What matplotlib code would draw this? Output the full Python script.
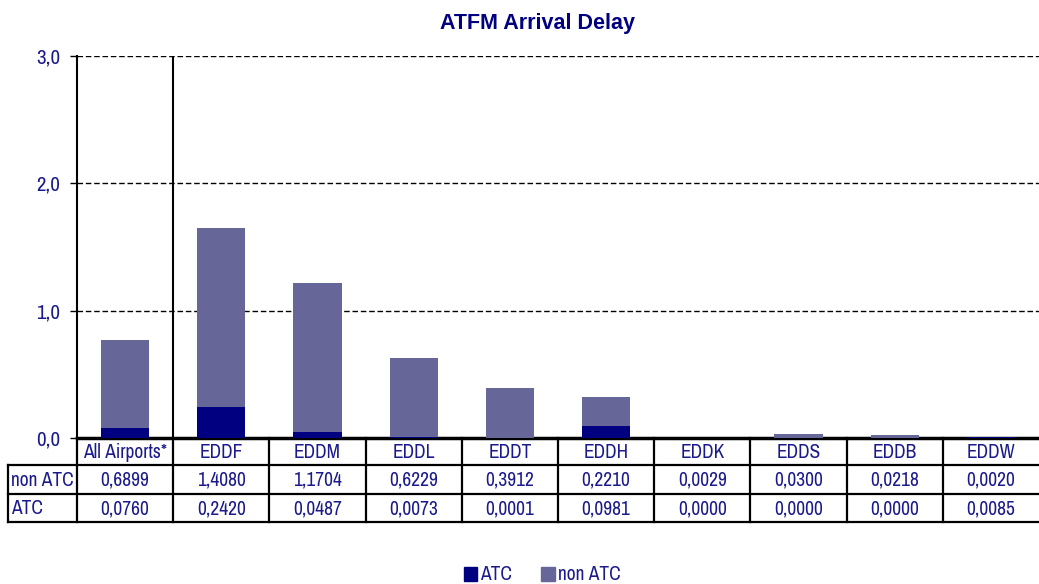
import matplotlib
matplotlib.use("Agg")
import matplotlib.pyplot as plt
from matplotlib import font_manager
from matplotlib.patches import Rectangle
from matplotlib.transforms import blended_transform_factory

airports = ["All Airports*", "EDDF", "EDDM", "EDDL", "EDDT", "EDDH", "EDDK", "EDDS", "EDDB", "EDDW"]
non_atc = [0.6899, 1.4080, 1.1704, 0.6229, 0.3912, 0.2210, 0.0029, 0.0300, 0.0218, 0.0020]
atc = [0.0760, 0.2420, 0.0487, 0.0073, 0.0001, 0.0981, 0.0000, 0.0000, 0.0000, 0.0085]
y_ticks = [0, 1, 2, 3]

NAVY = "#000080"
SLATE = "#666699"
TXT = "#1a1a8c"

# narrow face for the body text if one is around
fonts = font_manager.fontManager.ttflist
narrow = sorted({f.name for f in fonts if "Narrow" in f.name or "Condensed" in f.name})
plt.rcParams['font.family'] = narrow[:1] + ['Liberation Sans', 'DejaVu Sans']
FS = 14 if narrow else 12

W, H = 1039, 584
fig = plt.figure(figsize=(W / 100, H / 100), dpi=100)
ax = fig.add_axes([77 / W, 1 - 438 / H, 1 - 77 / W, (438 - 56) / H])

x = list(range(len(airports)))
ax.bar(x, atc, width=0.5, color=NAVY, zorder=3)
ax.bar(x, non_atc, width=0.5, bottom=atc, color=SLATE, zorder=3)

ax.set_xlim(-0.5, len(airports) - 0.5)
ax.set_ylim(0, 3)
ax.set_yticks(y_ticks)
ax.set_yticklabels([f"{v:.1f}".replace(".", ",") for v in y_ticks], color=TXT, fontsize=FS + 1)
ax.set_xticks([])
ax.yaxis.grid(True, color="black", linestyle=(0, (4, 2)), linewidth=1)
ax.set_axisbelow(True)
for s in ["top", "right"]:
    ax.spines[s].set_visible(False)
ax.spines["left"].set_linewidth(1.5)
ax.spines["bottom"].set_linewidth(2.5)
ax.tick_params(axis="y", length=5, width=1, pad=7)
ax.axvline(0.5, color="black", linewidth=1.5, zorder=2)


def fy(py):
    return 1 - py / H


fig.text(537 / W, fy(23), "ATFM Arrival Delay", color=NAVY, fontsize=15.5, fontweight="bold",
         ha="center", va="center", family=['Liberation Sans', 'DejaVu Sans'])

# data table below the axis, y in figure pixels
tr = blended_transform_factory(ax.transData, fig.transFigure)
trf = fig.transFigure

rows = [("non ATC", non_atc), ("ATC", atc)]
row_y = [(438, 465), (465, 494), (494, 522)]
lw = 1.6

# horizontal lines
for py in (465, 494, 522):
    fig.add_artist(plt.Line2D([8 / W, 1], [fy(py), fy(py)], color="black", linewidth=lw, transform=trf))
# left border of row labels
fig.add_artist(plt.Line2D([8 / W, 8 / W], [fy(465), fy(522)], color="black", linewidth=lw, transform=trf))
fig.add_artist(plt.Line2D([77 / W, 77 / W], [fy(438), fy(522)], color="black", linewidth=lw, transform=trf))
# vertical separators
for k in range(1, len(airports)):
    ax.add_artist(plt.Line2D([k - 0.5, k - 0.5], [fy(438), fy(522)], color="black", linewidth=lw,
                             transform=tr, clip_on=False))

for i, name in enumerate(airports):
    ax.text(i, fy(453), name, transform=tr, ha="center", va="center", color=TXT, fontsize=FS, clip_on=False)
    for (label, vals), (top, bot) in zip(rows, row_y[1:]):
        ax.text(i, fy((top + bot) / 2 + 1), f"{vals[i]:.4f}".replace(".", ","), transform=tr,
                ha="center", va="center", color=TXT, fontsize=FS, clip_on=False)

for (label, vals), (top, bot) in zip(rows, row_y[1:]):
    fig.text(11 / W, fy((top + bot) / 2 + 1), label, ha="left", va="center", color=TXT, fontsize=FS)

# legend
leg = fig.legend(handles=[Rectangle((0, 0), 1, 1, color=NAVY), Rectangle((0, 0), 1, 1, color=SLATE)],
                 labels=["ATC", "non ATC"], loc="center", bbox_to_anchor=(542 / W, fy(575)), ncol=2,
                 frameon=False, fontsize=FS, handlelength=0.7, handleheight=0.7, handletextpad=0.15,
                 columnspacing=1.5, labelcolor=TXT)

fig.savefig("out.png", dpi=100)
